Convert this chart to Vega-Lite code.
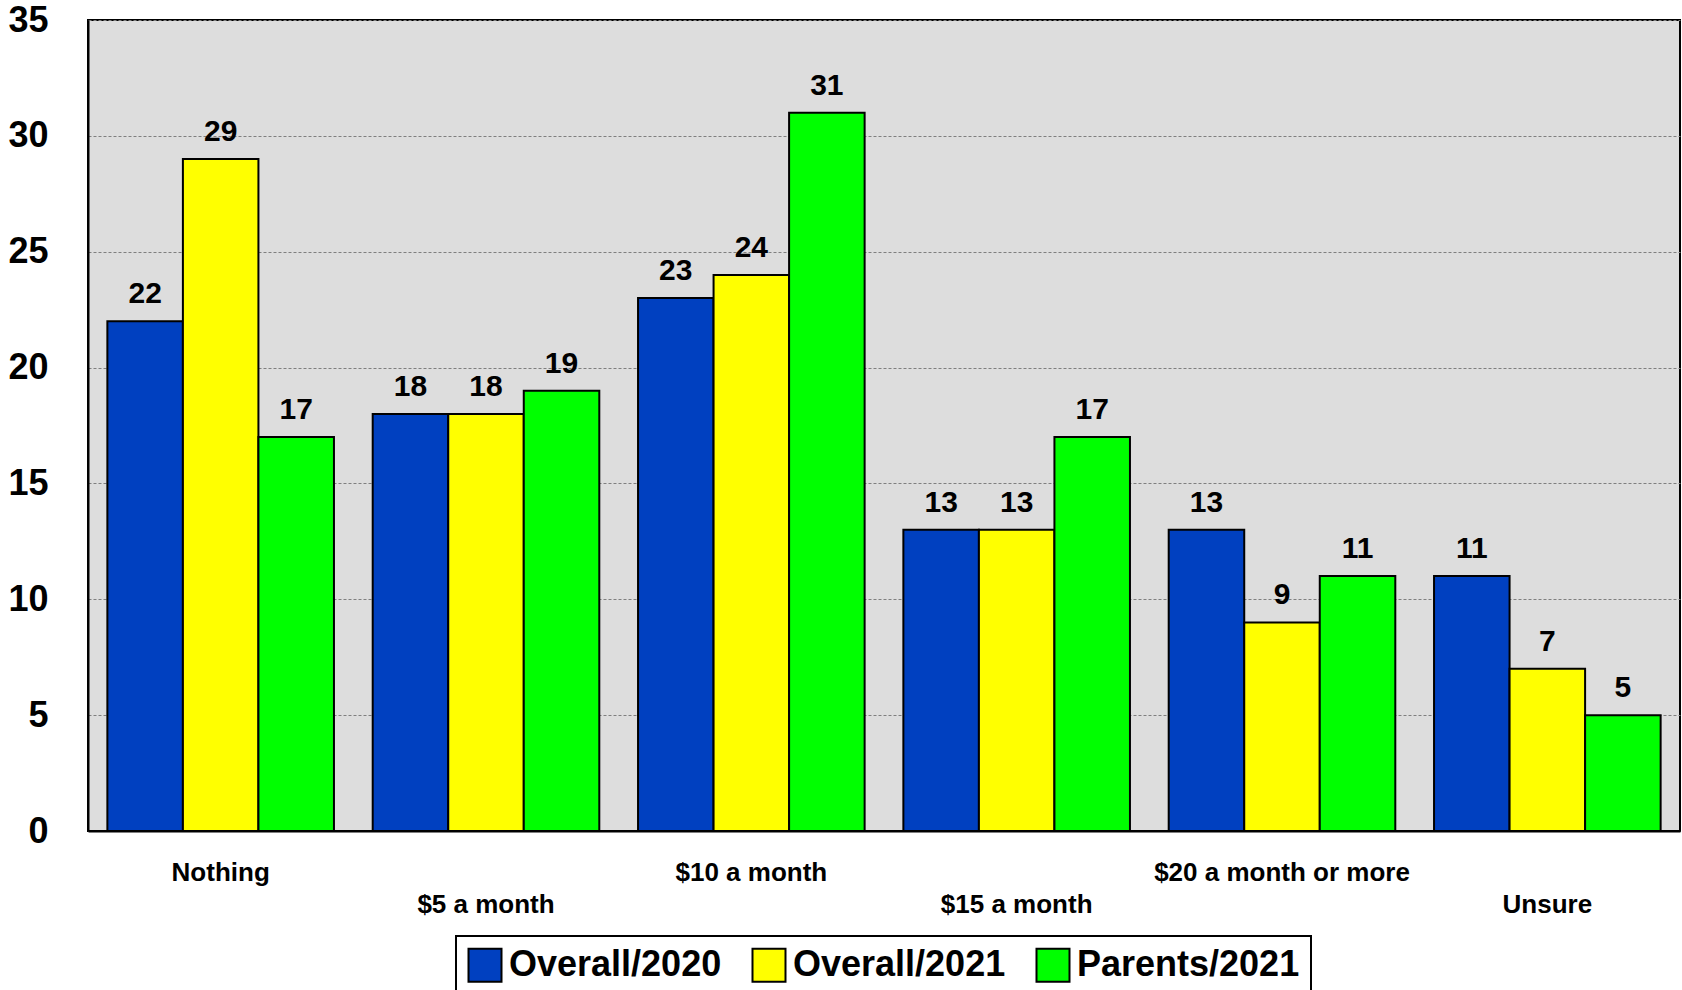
{
  "$schema": "https://vega.github.io/schema/vega-lite/v6.json",
  "autosize": {"type": "none"},
  "width": 1592,
  "height": 811,
  "padding": {"left": 88, "top": 20, "right": 2, "bottom": 159},
  "background": "white",
  "config": {
    "font": "Liberation Sans",
    "view": {"stroke": "black", "strokeWidth": 2, "fill": "#DDDDDD"},
    "axis": {"domainColor": "black", "domainWidth": 2, "ticks": false, "labelColor": "black", "labelFontWeight": "bold"},
    "legend": {"strokeColor": "black", "fillColor": "white", "padding": 11}
  },
  "data": {
    "values": [
      {"category": "Nothing", "series": "Overall/2020", "value": 22},
      {"category": "Nothing", "series": "Overall/2021", "value": 29},
      {"category": "Nothing", "series": "Parents/2021", "value": 17},
      {"category": "$5 a month", "series": "Overall/2020", "value": 18},
      {"category": "$5 a month", "series": "Overall/2021", "value": 18},
      {"category": "$5 a month", "series": "Parents/2021", "value": 19},
      {"category": "$10 a month", "series": "Overall/2020", "value": 23},
      {"category": "$10 a month", "series": "Overall/2021", "value": 24},
      {"category": "$10 a month", "series": "Parents/2021", "value": 31},
      {"category": "$15 a month", "series": "Overall/2020", "value": 13},
      {"category": "$15 a month", "series": "Overall/2021", "value": 13},
      {"category": "$15 a month", "series": "Parents/2021", "value": 17},
      {"category": "$20 a month or more", "series": "Overall/2020", "value": 13},
      {"category": "$20 a month or more", "series": "Overall/2021", "value": 9},
      {"category": "$20 a month or more", "series": "Parents/2021", "value": 11},
      {"category": "Unsure", "series": "Overall/2020", "value": 11},
      {"category": "Unsure", "series": "Overall/2021", "value": 7},
      {"category": "Unsure", "series": "Parents/2021", "value": 5}
    ]
  },
  "encoding": {
    "x": {
      "field": "category",
      "type": "nominal",
      "sort": ["Nothing", "$5 a month", "$10 a month", "$15 a month", "$20 a month or more", "Unsure"],
      "scale": {"paddingInner": 0.146, "paddingOuter": 0.073},
      "axis": {
        "title": null,
        "labelAngle": 0,
        "labelFontSize": 26,
        "labelPadding": 28,
        "labelBaseline": "top",
        "labelLineHeight": 32,
        "labelOverlap": false,
        "labelLimit": 0,
        "labelExpr": "indexof(['$5 a month', '$15 a month', 'Unsure'], datum.value) >= 0 ? ['', datum.label] : datum.label"
      }
    },
    "xOffset": {
      "field": "series",
      "type": "nominal",
      "sort": ["Overall/2020", "Overall/2021", "Parents/2021"],
      "scale": {"paddingInner": 0, "paddingOuter": 0}
    },
    "y": {
      "field": "value",
      "type": "quantitative",
      "scale": {"domain": [0, 35], "nice": false},
      "axis": {
        "title": null,
        "values": [0, 5, 10, 15, 20, 25, 30, 35],
        "labelFontSize": 36,
        "labelPadding": 40,
        "grid": true,
        "gridColor": "#7f7f7f",
        "gridDash": [3, 2],
        "gridWidth": 1
      }
    }
  },
  "layer": [
    {
      "mark": {"type": "bar", "stroke": "black", "strokeWidth": 2},
      "encoding": {
        "color": {
          "field": "series",
          "type": "nominal",
          "sort": ["Overall/2020", "Overall/2021", "Parents/2021"],
          "scale": {"domain": ["Overall/2020", "Overall/2021", "Parents/2021"], "range": ["#0040C0", "#FFFF00", "#00FF00"]},
          "legend": {
            "title": null,
            "orient": "none",
            "legendX": 368,
            "legendY": 916,
            "direction": "horizontal",
            "symbolType": "square",
            "symbolSize": 1089,
            "symbolStrokeColor": "black",
            "symbolStrokeWidth": 2,
            "symbolOpacity": 1,
            "labelFontSize": 36,
            "labelFontWeight": "bold",
            "labelColor": "black",
            "labelOffset": 6,
            "labelLimit": 0,
            "columnPadding": 26,
            "encode": {"legend": {"update": {"strokeWidth": {"value": 2}}}}
          }
        }
      }
    },
    {
      "mark": {"type": "text", "baseline": "alphabetic", "dy": -18, "fontSize": 30, "fontWeight": "bold", "color": "black"},
      "encoding": {"text": {"field": "value", "type": "quantitative"}}
    }
  ]
}
